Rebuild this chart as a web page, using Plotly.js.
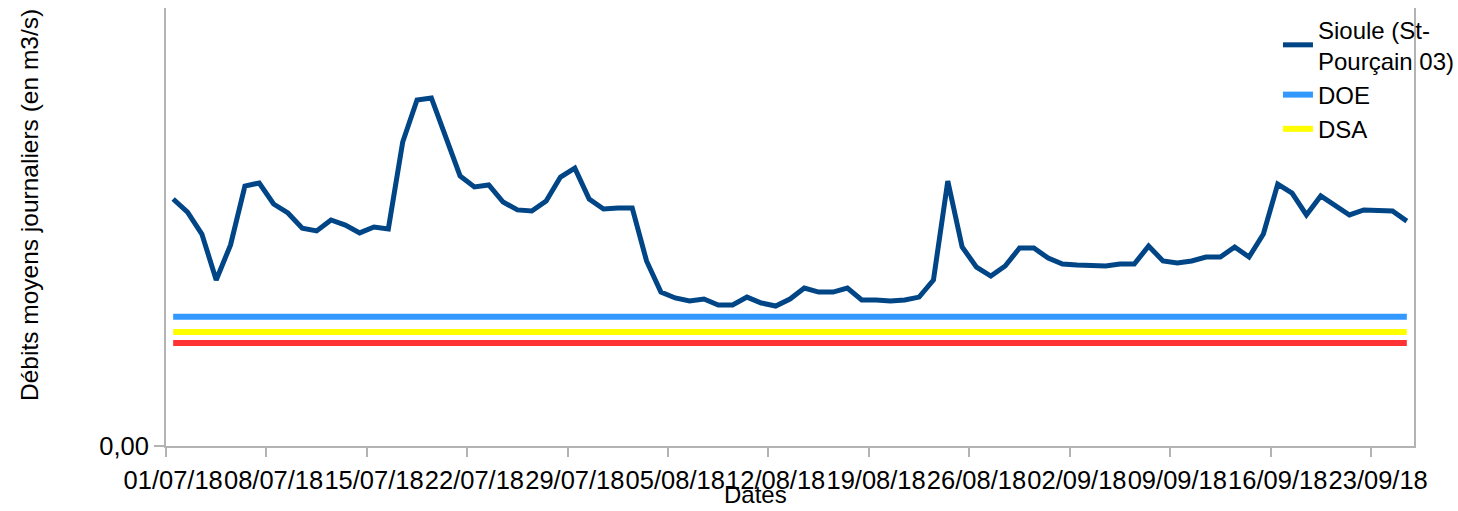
<!DOCTYPE html>
<html>
<head>
<meta charset="utf-8">
<script src="https://cdn.plot.ly/plotly-3.0.1.min.js"></script>
<style>
  html, body { margin: 0; padding: 0; background: #ffffff; }
  #chart { width: 1458px; height: 511px; }
</style>
</head>
<body>
<div id="chart"></div>
<script>
// Categories: daily dates
const dates = [
  "01/07/18","02/07/18","03/07/18","04/07/18","05/07/18","06/07/18","07/07/18","08/07/18","09/07/18","10/07/18",
  "11/07/18","12/07/18","13/07/18","14/07/18","15/07/18","16/07/18","17/07/18","18/07/18","19/07/18","20/07/18",
  "21/07/18","22/07/18","23/07/18","24/07/18","25/07/18","26/07/18","27/07/18","28/07/18","29/07/18","30/07/18",
  "31/07/18","01/08/18","02/08/18","03/08/18","04/08/18","05/08/18","06/08/18","07/08/18","08/08/18","09/08/18",
  "10/08/18","11/08/18","12/08/18","13/08/18","14/08/18","15/08/18","16/08/18","17/08/18","18/08/18","19/08/18",
  "20/08/18","21/08/18","22/08/18","23/08/18","24/08/18","25/08/18","26/08/18","27/08/18","28/08/18","29/08/18",
  "30/08/18","31/08/18","01/09/18","02/09/18","03/09/18","04/09/18","05/09/18","06/09/18","07/09/18","08/09/18",
  "09/09/18","10/09/18","11/09/18","12/09/18","13/09/18","14/09/18","15/09/18","16/09/18","17/09/18","18/09/18",
  "19/09/18","20/09/18","21/09/18","22/09/18","23/09/18","24/09/18","25/09/18"
];

// Sioule (St-Pourçain 03) daily mean flow (m3/s)
const sioule = [
  11.28,10.68,9.68,7.58,9.18,11.87,12.01,11.05,10.64,9.95,
  9.82,10.32,10.09,9.73,10.00,9.91,13.88,15.80,15.89,14.11,
  12.33,11.83,11.92,11.14,10.78,10.73,11.19,12.28,12.69,11.28,
  10.82,10.87,10.87,8.45,7.03,6.76,6.62,6.71,6.44,6.44,
  6.80,6.53,6.39,6.71,7.21,7.03,7.03,7.21,6.67,6.67,
  6.62,6.67,6.80,7.58,12.10,9.09,8.17,7.76,8.22,9.04,
  9.04,8.58,8.31,8.26,8.22,8.22,8.31,8.31,9.13,8.45,
  8.36,8.45,8.63,8.63,9.09,8.63,9.68,11.96,11.55,10.55,
  11.42,11.00,10.55,10.78,10.78,10.73,10.27
];

// Threshold levels
const doeLevel = 5.9;
const dsaLevel = 5.2;
const dcrLevel = 4.7;

// Tick labels (one every 7 days)
const tickIndex = [0,7,14,21,28,35,42,49,56,63,70,77,84];
const yTickVals = [0];
const yTickText = ["0,00"];

const xIdx = dates.map((d, i) => i);
const doe = dates.map(() => doeLevel);
const dsa = dates.map(() => dsaLevel);
const dcr = dates.map(() => dcrLevel);

const FONT = "Liberation Sans, Arial, sans-serif";
const FS = 25.5;

const traces = [
  { x: xIdx, y: dcr, xaxis: "x2", type: "scatter", mode: "lines", name: "DCR", showlegend: false,
    line: { color: "#ff3333", width: 6 }, hoverinfo: "skip" },
  { x: xIdx, y: dsa, type: "scatter", mode: "lines", name: "DSA",
    line: { color: "#ffff00", width: 6 }, hoverinfo: "skip" },
  { x: xIdx, y: doe, type: "scatter", mode: "lines", name: "DOE",
    line: { color: "#3399ff", width: 6 }, hoverinfo: "skip" },
  { x: xIdx, y: sioule, type: "scatter", mode: "lines", name: "Sioule (St-<br>Pourçain 03)",
    line: { color: "#004586", width: 5 }, hoverinfo: "skip" }
];

const PW = 1458 - 166 - 44;   // plot width in px
const PH = 511 - 8 - 65;      // plot height in px

const layout = {
  width: 1458, height: 511,
  paper_bgcolor: "#ffffff", plot_bgcolor: "#ffffff",
  margin: { l: 166, r: 44, t: 8, b: 65, autoexpand: false },
  font: { family: FONT, color: "#000000", size: FS },
  showlegend: true,
  legend: {
    x: 0.891, y: 1.002, xanchor: "left", yanchor: "top",
    traceorder: "reversed",
    font: { family: FONT, size: 24, color: "#000000" },
    bgcolor: "rgba(255,255,255,0)", borderwidth: 0,
    tracegroupgap: 0
  },
  annotations: [
    { text: "Dates", xref: "paper", yref: "paper", x: (755 - 166) / PW, y: -(510 - 446) / PH,
      xanchor: "center", yanchor: "bottom", showarrow: false,
      font: { family: FONT, size: 24, color: "#000000" } },
    { text: "Débits moyens journaliers (en m3/s)", xref: "paper", yref: "paper",
      x: (30 - 166) / PW, y: (446 - 205) / PH, textangle: -90,
      xanchor: "center", yanchor: "middle", showarrow: false,
      font: { family: FONT, size: 24.5, color: "#000000" } }
  ],
  xaxis: {
    range: [-0.5, 86.5],
    tickmode: "array",
    tickvals: tickIndex,
    ticktext: tickIndex.map(i => dates[i]),
    ticks: "outside", ticklen: 10, tickcolor: "rgba(0,0,0,0)",
    showline: true, linecolor: "#b3b3b3", linewidth: 2,
    mirror: false,
    showgrid: false, zeroline: false,
    tickangle: 0,
    tickfont: { family: FONT, size: FS, color: "#000000" }
  },
  xaxis2: {
    overlaying: "x", anchor: "y", side: "bottom",
    range: [-0.5, 86.5],
    tickmode: "array",
    tickvals: tickIndex.map(i => i - 0.5),
    showticklabels: false,
    ticks: "outside", ticklen: 10, tickcolor: "#b3b3b3", tickwidth: 2,
    showline: false, showgrid: false, zeroline: false
  },
  yaxis: {
    range: [0, 20],
    tickmode: "array", tickvals: yTickVals, ticktext: yTickText,
    ticks: "outside", ticklen: 10, tickcolor: "#b3b3b3", tickwidth: 2,
    showline: true, linecolor: "#b3b3b3", linewidth: 2,
    mirror: true,
    showgrid: false, zeroline: false,
    tickfont: { family: FONT, size: FS, color: "#000000" }
  }
};

Plotly.newPlot("chart", traces, layout, { staticPlot: true, displayModeBar: false });
</script>
</body>
</html>
